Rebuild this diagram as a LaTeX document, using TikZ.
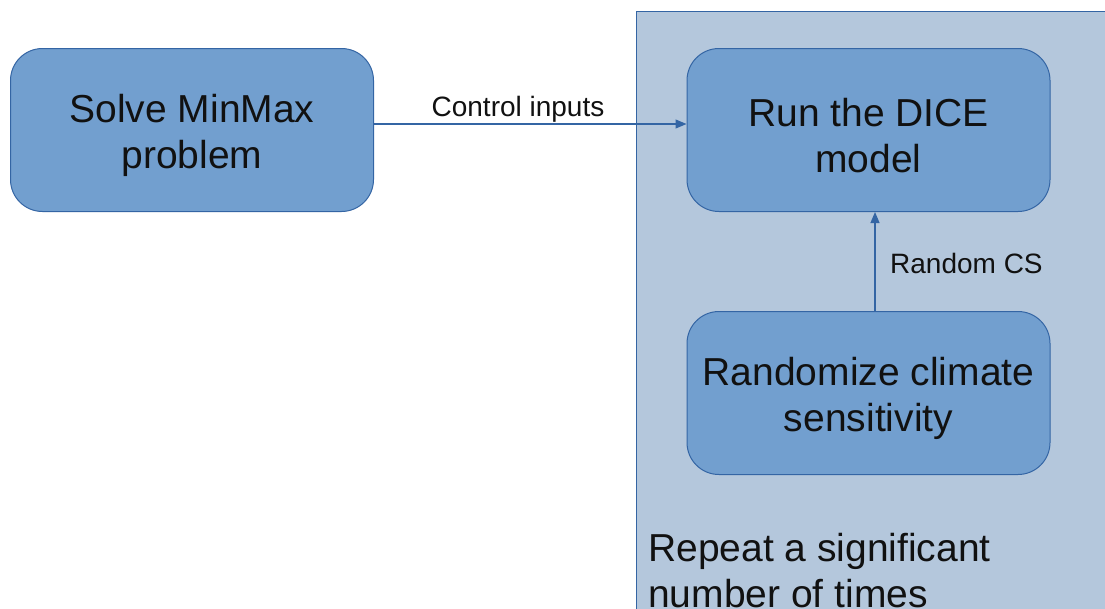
\documentclass[tikz,border=0pt]{standalone}
\usepackage{fontspec}
\setmainfont{Liberation Sans}
\usetikzlibrary{arrows.meta,calc}
\definecolor{boxfill}{HTML}{729FCF}
\definecolor{boxline}{HTML}{3465A4}
\definecolor{grpfill}{HTML}{B4C7DC}
\definecolor{txt}{HTML}{111111}
\newcommand{\lowr}{\rule{0pt}{38.5pt}}
\tikzset{
  procbox/.style={draw=boxline, line width=1pt, fill=boxfill, rounded corners=32pt,
    minimum width=363pt, minimum height=163pt, align=center, text=txt,
    font=\fontsize{39}{46}\selectfont, inner sep=0pt},
  conn/.style={draw=boxline, line width=1.1pt, -{Triangle[length=11pt,width=9pt]}},
  lbl/.style={text=txt, font=\fontsize{28}{32}\selectfont, inner sep=0pt},
  bigtxt/.style={anchor=base west, inner sep=0pt, text=txt, align=left, font=\fontsize{39}{46}\selectfont},
}
\begin{document}
\begin{tikzpicture}[x=1pt,y=-1pt]
\useasboundingbox (0,0) rectangle (1105,608);
\clip (0,0) rectangle (1105,608);
\fill[white] (0,0) rectangle (1105,608);
% group container
\draw[draw=boxline, line width=1pt, fill=grpfill] (636,11) rectangle (1130,640);
% boxes
\node[procbox] (solve) at (192,130) {\lowr Solve MinMax\\problem};
\node[procbox] (dice) at (868.5,130) {\lowr Run the DICE\\model};
\node[procbox] (rand) at (868.5,393) {\lowr Randomize climate\\sensitivity};
% connectors
\draw[conn] ([yshift=6pt]solve.east) -- ([yshift=6pt]dice.west);
\draw[conn] ([xshift=6.5pt]rand.north) -- ([xshift=6.5pt]dice.south);
% labels
\node[lbl, anchor=base] (lc) at (518,116) {Control inputs};
\node[lbl, anchor=base west] (lr) at (890,273) {Random CS};
\node[bigtxt] (rep) at (648,561) {Repeat a significant};
\node[bigtxt] (rep2) at (648,607) {number of times};
\end{tikzpicture}
\end{document}
